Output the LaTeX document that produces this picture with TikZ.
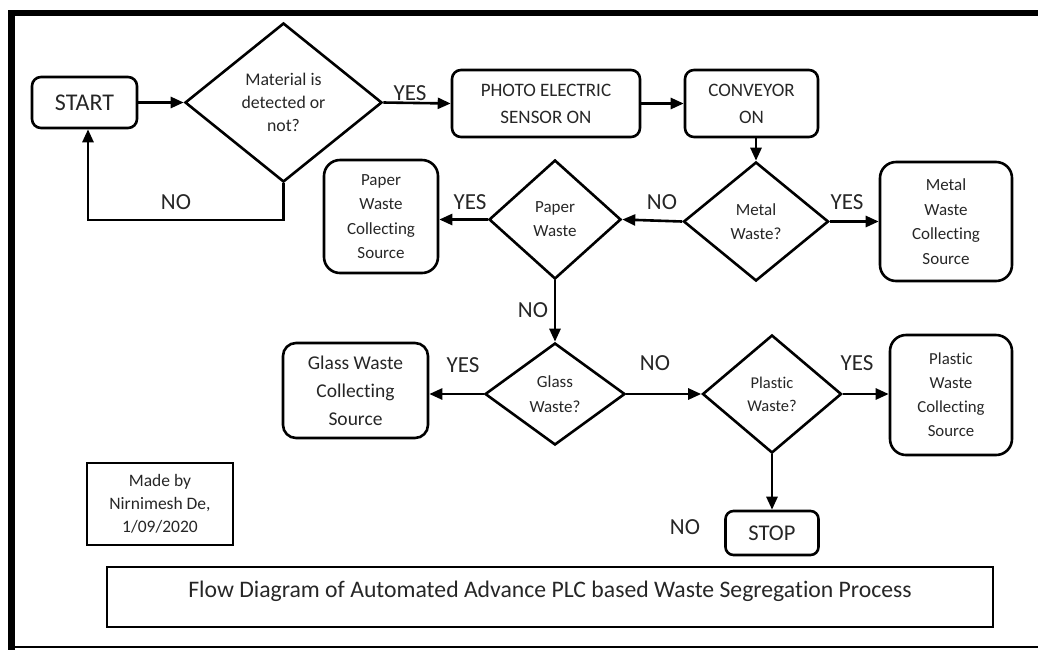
\documentclass[tikz,border=0pt]{standalone}
\usepackage{fontspec}
\setmainfont{Carlito}[Ligatures=NoCommon]
\usetikzlibrary{shapes.geometric,arrows.meta}
\definecolor{txt}{HTML}{262626}
\newcommand{\fsz}[2]{\fontsize{#1}{#2}\selectfont}
\begin{document}
\begin{tikzpicture}[x=1pt,y=-1pt,
  box/.style={draw,line width=2.6pt,rounded corners=9pt,align=center,inner sep=0pt,text=txt},
  dia/.style={draw,diamond,line width=2.6pt,align=center,inner sep=0pt,text=txt},
  lbl/.style={text=txt,font=\fsz{23}{26},inner sep=0pt},
  arr/.style={line width=2.6pt,-{Triangle[length=13pt,width=11pt]}},
]
\useasboundingbox (0,0) rectangle (1038,649);
% outer frame
\draw[line width=6.5pt] (11.5,652) -- (11.5,13) -- (1045,13);
\draw[line width=2pt] (11.5,647) -- (1045,647);

% nodes
\node[box, minimum width=105pt, minimum height=51pt, font=\fsz{24}{28}] (start) at (84.5,102.5) {START};
\node[dia, minimum width=197pt, minimum height=159pt, font=\fsz{17.8}{23}] (mat) at (283.5,102.5) {Material is\\detected or\\not?};
\node[box, minimum width=188pt, minimum height=67pt, font=\fsz{19}{27}] (photo) at (546,103.5) {PHOTO ELECTRIC\\SENSOR ON};
\node[box, minimum width=133pt, minimum height=67pt, font=\fsz{19}{27}] (conv) at (751.5,103.5) {CONVEYOR\\ON};
\node[dia, minimum width=145pt, minimum height=119pt, font=\fsz{17}{24}] (metal) at (756,221.5) {Metal\\Waste?};
\node[box, rounded corners=16pt, minimum width=132pt, minimum height=119pt, font=\fsz{17}{24.5}] (metalbox) at (946,221.5) {Metal\\Waste\\Collecting\\Source};
\node[dia, minimum width=132pt, minimum height=119pt, font=\fsz{17}{24}] (paper) at (555,219.5) {Paper\\Waste};
\node[box, rounded corners=16pt, minimum width=114pt, minimum height=113pt, font=\fsz{17}{24.5}] (paperbox) at (381,216.5) {Paper\\Waste\\Collecting\\Source};
\node[dia, minimum width=140pt, minimum height=102pt, font=\fsz{17}{25}] (glass) at (555,394) {Glass\\Waste?};
\node[box, rounded corners=13pt, minimum width=145pt, minimum height=95pt, font=\fsz{19.5}{28}] (glassbox) at (355.5,390.5) {Glass Waste\\Collecting\\Source};
\node[dia, minimum width=139pt, minimum height=118pt, font=\fsz{16.5}{23}] (plastic) at (772,394) {Plastic\\Waste?};
\node[box, rounded corners=16pt, minimum width=122pt, minimum height=120pt, font=\fsz{16.8}{24}] (plasticbox) at (951,395) {Plastic\\Waste\\Collecting\\Source};
\node[box, rounded corners=8pt, minimum width=93pt, minimum height=44pt, font=\fsz{22.5}{26}] (stop) at (772,533) {STOP};
\node[draw, line width=2.6pt, minimum width=146pt, minimum height=82pt, inner sep=0pt, align=center, text=txt, font=\fsz{17.5}{23}] (made) at (160,504) {Made by\\Nirnimesh De,\\1/09/2020};
\node[draw, line width=2.4pt, minimum width=886pt, inner xsep=0pt, inner ysep=0pt, text height=30pt, text depth=30pt, text=txt, font=\fsz{23.7}{26}] (title) at (550,597) {Flow Diagram of Automated Advance PLC based Waste Segregation Process};

% connectors
\coordinate (lp) at (88,220);
\draw[arr] (start.east) -- (mat.west);
\draw[arr] (mat.east) -- (photo.west);
\draw[arr] (photo.east) -- (conv.west);
\draw[arr] (metal.north |- conv.south) -- (metal.north);
\draw[arr] (metal.west) -- (paper.east);
\draw[arr] (metal.east) -- (metalbox.west);
\draw[arr] (paper.west) -- (paperbox.east |- paper.west);
\draw[arr] (paper.south) -- (glass.north);
\draw[arr] (glass.west) -- (glassbox.east |- glass.west);
\draw[arr] (glass.east) -- (plastic.west);
\draw[arr] (plastic.east) -- (plasticbox.west |- plastic.east);
\draw[arr] (plastic.south) -- (stop.north);
\draw[arr] (mat.south) |- (lp) -- (lp |- start.south);

% labels
\node[lbl] (l1) at (410,93) {YES};
\node[lbl] (l2) at (176,202) {NO};
\node[lbl] (l3) at (470,202) {YES};
\node[lbl] (l4) at (662,202) {NO};
\node[lbl] (l5) at (847,202) {YES};
\node[lbl] (l6) at (533,310) {NO};
\node[lbl] (l7) at (463,365) {YES};
\node[lbl] (l8) at (655,363) {NO};
\node[lbl] (l9) at (857,363) {YES};
\node[lbl] (l10) at (685,527) {NO};
\end{tikzpicture}
\end{document}
